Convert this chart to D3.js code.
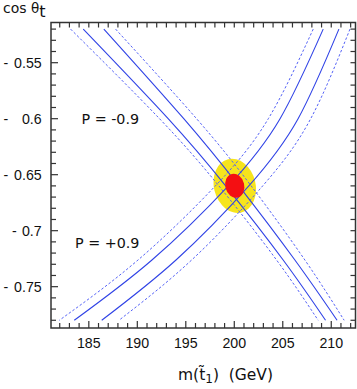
<!DOCTYPE html>
<html>
<head>
<meta charset="utf-8">
<script src="https://cdn.jsdelivr.net/npm/d3@7"></script>
<style>
	body { margin: 0; background: #fff; }
	svg { display: block; }
</style>
</head>
<body>
<div id="chart"></div>
<script>

// cos(theta_t) rows at which the band positions were read
const cosRows = [-0.52, -0.60, -0.66, -0.7262, -0.78]

// P = -0.9 band (falling), stop mass in GeV at each row
const minusDashLo = [183.12, 192.29, 198.41, 204.36, 208.65]
const minusSolidLo = [184.42, 193.18, 199.11, 205.04, 209.41]
const minusSolidHi = [186.55, 194.79, 200.47, 206.25, 210.60]
const minusDashHi = [187.76, 196.11, 201.74, 207.28, 211.33]

// P = +0.9 band (rising)
const plusDashLo = [208.14, 203.51, 198.05, 190.07, 181.96]
const plusSolidLo = [209.17, 204.72, 199.39, 191.51, 183.50]
const plusSolidHi = [210.79, 206.58, 201.50, 193.99, 186.33]
const plusDashHi = [211.93, 207.88, 202.93, 195.60, 188.11]

// fit result: centre, semi axes (GeV, cos) and tilt for the two error ellipses
const bestFit = [200.05, -0.6599]
const outerEllipse = [2.15, 0.0245, -14]
const innerEllipse = [0.98, 0.0108, -14]

const xMajor = [185, 190, 195, 200, 205, 210]
const yMajor = [-0.55, -0.6, -0.65, -0.7, -0.75]
const yLabels = ['0.55', '0.6', '0.65', '0.7', '0.75']

let width = 357
	, height = 389
	, x = d3.scaleLinear()
		.domain([181.1, 212.5])
		.range([51, 355.5])
	, y = d3.scaleLinear()
		.domain([-0.5141, -0.7869])
		.range([22.5, 328])

let svg = d3.select('#chart').append('svg')
	.attr('width', width)
	.attr('height', height)

// ellipses under the lines (yellow), red one on top
function ellipse(g, e, fill) {
	g.append('ellipse')
		.attr('cx', x(bestFit[0]))
		.attr('cy', y(bestFit[1]))
		.attr('rx', x(bestFit[0] + e[0]) - x(bestFit[0]))
		.attr('ry', y(bestFit[1] - e[1]) - y(bestFit[1]))
		.attr('transform', 'rotate(' + e[2] + ',' + x(bestFit[0]) + ',' + y(bestFit[1]) + ')')
		.attr('fill', fill)
}

ellipse(svg, outerEllipse, '#f6e41c')

let line = d3.line()
	.x(d => x(d[0]))
	.y(d => y(d[1]))
	.curve(d3.curveNatural)

let bands = [
	{ m: minusDashLo, dash: true }
	, { m: minusSolidLo, dash: false }
	, { m: minusSolidHi, dash: false }
	, { m: minusDashHi, dash: true }
	, { m: plusDashLo, dash: true }
	, { m: plusSolidLo, dash: false }
	, { m: plusSolidHi, dash: false }
	, { m: plusDashHi, dash: true }
]

svg.append('g')
	.attr('fill', 'none')
	.selectAll('path')
	.data(bands)
	.join('path')
		.attr('d', d => line(d.m.map((m, i) => [m, cosRows[i]])))
		.attr('stroke', d => d.dash ? '#5563f7' : '#3043e6')
		.attr('stroke-width', d => d.dash ? 1 : 1.1)
		.attr('stroke-dasharray', d => d.dash ? '2.5,2' : null)

ellipse(svg, innerEllipse, '#f40f12')

// frame and inside ticks
let x0 = x.range()[0], x1 = x.range()[1]
	, y0 = y.range()[0], y1 = y.range()[1]

svg.append('rect')
	.attr('x', x0).attr('y', y0)
	.attr('width', x1 - x0).attr('height', y1 - y0)
	.attr('fill', 'none')
	.attr('stroke', '#333')
	.attr('stroke-width', 1.5)

let ticks = svg.append('g').attr('stroke', '#333').attr('stroke-width', 1.2)

d3.range(182, 213).forEach(v => {
	let major = xMajor.indexOf(v) >= 0
	ticks.append('line')
		.attr('x1', x(v)).attr('x2', x(v))
		.attr('y1', y1).attr('y2', y1 - (major ? 7 : 5))
	ticks.append('line')
		.attr('x1', x(v)).attr('x2', x(v))
		.attr('y1', y0).attr('y2', y0 + 5)
})

d3.range(52, 79).forEach(k => {
	let v = -k / 100
		, major = k % 5 === 0
	ticks.append('line')
		.attr('x1', x0).attr('x2', x0 + (major ? 7 : 5))
		.attr('y1', y(v)).attr('y2', y(v))
	ticks.append('line')
		.attr('x1', x1).attr('x2', x1 - 5)
		.attr('y1', y(v)).attr('y2', y(v))
})

// tick labels
let labels = svg.append('g')
	.attr('font-family', '"Liberation Sans", Arial, sans-serif')
	.attr('font-size', 14.2)
	.attr('fill', '#111')

labels.selectAll('.xl')
	.data(xMajor)
	.join('text')
		.attr('class', 'xl')
		.attr('x', d => x(d))
		.attr('y', 348)
		.attr('text-anchor', 'middle')
		.text(d => d)

labels.selectAll('.yl')
	.data(yMajor)
	.join('text')
		.attr('class', 'yl')
		.attr('x', 41.7)
		.attr('y', d => y(d) + 4.9)
		.attr('text-anchor', 'end')
		.text((d, i) => yLabels[i])

labels.selectAll('.ym')
	.data(yMajor)
	.join('text')
		.attr('class', 'ym')
		.attr('x', (d, i) => i === 3 ? 12 : 3.5)
		.attr('y', d => y(d) + 4.9)
		.text('-')

// titles
let titles = svg.append('g')
	.attr('font-family', '"DejaVu Sans", sans-serif')
	.attr('fill', '#111')

let yt = titles.append('text')
	.attr('x', 3)
	.attr('y', 13)
	.attr('font-size', 14)
yt.append('tspan').text('cos ')
yt.append('tspan').attr('font-size', 13.5).text('θ')
yt.append('tspan').attr('dy', 4).attr('font-size', 16).text('t')

let xt = titles.append('text')
	.attr('x', 178)
	.attr('y', 380)
	.attr('font-size', 15.5)
xt.append('tspan').text('m(t\u0303')
xt.append('tspan').attr('dy', 3).attr('font-size', 12).text('1')
xt.append('tspan').attr('dy', -3).text(')\u00a0\u00a0(GeV)')

titles.append('text')
	.attr('x', 81.5)
	.attr('y', 124)
	.attr('font-size', 14.3)
	.text('P = -0.9')

titles.append('text')
	.attr('x', 75)
	.attr('y', 248)
	.attr('font-size', 14.3)
	.text('P = +0.9')

</script>
</body>
</html>
